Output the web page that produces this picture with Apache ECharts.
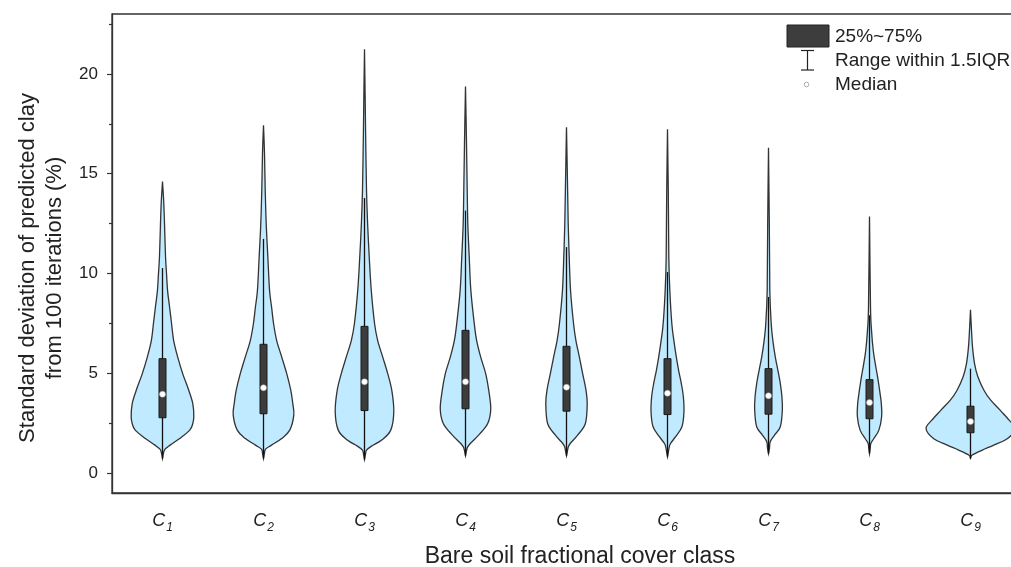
<!DOCTYPE html>
<html>
<head>
<meta charset="utf-8">
<script src="https://cdn.jsdelivr.net/npm/echarts@6/dist/echarts.min.js"></script>
<style>
  html, body { margin: 0; padding: 0; background: #fff; }
  #chart { width: 1011px; height: 567px; }
</style>
</head>
<body>
<div id="chart"></div>
<script>
// class subscripts (C1 ... C9)
const classes = ['1', '2', '3', '4', '5', '6', '7', '8', '9']

// box plot stats, % clay
const lowerQuartile = [2.77, 2.97, 3.13, 3.22, 3.1, 2.93, 2.95, 2.72, 2.02]
const medians = [3.95, 4.27, 4.57, 4.57, 4.3, 4.0, 3.87, 3.53, 2.58]
const upperQuartile = [5.73, 6.45, 7.35, 7.15, 6.35, 5.73, 5.23, 4.68, 3.35]
const whiskerHigh = [10.27, 11.73, 13.78, 13.15, 11.32, 10.07, 8.82, 7.9, 5.23]
const minValues = [0.73, 0.73, 0.68, 0.87, 0.87, 0.82, 0.98, 0.98, 0.73]

// violin outline: [value, relative density] pairs
const densityC1 = [[0.73, 0], [1.0, 0.02], [1.2, 0.05], [1.4, 0.15], [1.73, 0.34], [2.15, 0.54], [2.48, 0.6], [2.82, 0.62], [3.48, 0.6], [4.15, 0.52], [4.98, 0.4], [5.82, 0.3], [6.65, 0.22], [7.48, 0.18], [8.32, 0.14], [9.15, 0.1], [9.98, 0.08], [10.82, 0.06], [12.48, 0.04], [13.6, 0.024], [14.6, 0]]
const densityC2 = [[0.73, 0], [1.0, 0.02], [1.2, 0.04], [1.4, 0.16], [1.73, 0.36], [2.15, 0.52], [2.9, 0.6], [3.48, 0.58], [4.15, 0.54], [4.98, 0.46], [5.82, 0.36], [6.65, 0.26], [7.48, 0.2], [8.32, 0.16], [9.15, 0.12], [10.82, 0.086], [12.48, 0.054], [14.15, 0.034], [16.0, 0.02], [17.43, 0]]
const densityC3 = [[0.68, 0], [0.95, 0.02], [1.15, 0.04], [1.35, 0.14], [1.65, 0.34], [2.15, 0.52], [3.07, 0.58], [4.15, 0.54], [4.98, 0.46], [5.82, 0.36], [6.65, 0.26], [7.48, 0.2], [9.15, 0.134], [10.82, 0.094], [12.48, 0.062], [14.15, 0.04], [17.0, 0.022], [19.0, 0.012], [21.23, 0]]
const densityC4 = [[0.87, 0], [1.12, 0.02], [1.3, 0.04], [1.48, 0.094], [1.9, 0.26], [2.48, 0.44], [3.22, 0.5], [4.15, 0.46], [4.98, 0.4], [5.82, 0.3], [6.65, 0.22], [7.48, 0.174], [9.15, 0.106], [10.82, 0.074], [12.48, 0.046], [14.15, 0.034], [16.5, 0.02], [19.37, 0]]
const densityC5 = [[0.87, 0], [1.12, 0.02], [1.3, 0.035], [1.48, 0.074], [1.9, 0.22], [2.48, 0.374], [3.48, 0.41], [4.15, 0.386], [4.98, 0.32], [5.82, 0.254], [6.65, 0.186], [7.48, 0.14], [9.15, 0.08], [10.82, 0.054], [12.48, 0.034], [14.5, 0.02], [17.32, 0]]
const densityC6 = [[0.82, 0], [1.1, 0.02], [1.3, 0.035], [1.48, 0.06], [1.82, 0.16], [2.32, 0.286], [3.07, 0.326], [3.82, 0.314], [4.48, 0.274], [5.15, 0.22], [5.82, 0.174], [6.65, 0.126], [7.48, 0.086], [9.15, 0.046], [10.82, 0.026], [14.0, 0.016], [17.23, 0]]
const densityC7 = [[0.98, 0], [1.25, 0.02], [1.57, 0.034], [1.9, 0.12], [2.32, 0.234], [3.15, 0.274], [3.82, 0.266], [4.48, 0.234], [5.15, 0.186], [5.82, 0.134], [6.65, 0.086], [7.48, 0.054], [9.15, 0.026], [12.5, 0.016], [16.3, 0]]
const densityC8 = [[0.98, 0], [1.25, 0.015], [1.48, 0.026], [1.73, 0.086], [2.15, 0.186], [2.82, 0.24], [3.48, 0.234], [4.15, 0.2], [4.82, 0.16], [5.48, 0.114], [6.15, 0.074], [7.15, 0.04], [8.32, 0.02], [12.85, 0]]
const densityC9 = [[0.73, 0], [0.9, 0.034], [1.15, 0.234], [1.4, 0.46], [1.73, 0.734], [2.23, 0.88], [2.65, 0.766], [3.15, 0.586], [3.65, 0.4], [4.15, 0.266], [4.82, 0.146], [5.48, 0.08], [6.32, 0.04], [7.15, 0.02], [8.18, 0]]
const densityProfiles = [densityC1, densityC2, densityC3, densityC4, densityC5, densityC6, densityC7, densityC8, densityC9]

// y axis ticks
const yMajorTicks = [0, 5, 10, 15, 20]
const yMinorTicks = [2.5, 7.5, 12.5, 17.5, 22.5]

const FONT = 'Liberation Sans, Arial, Helvetica, sans-serif'
const INK = '#222'

// catmull-rom curve through the outline points
function curve(pts, move) {
  let d = (move ? 'M' : 'L') + pts[0][0].toFixed(2) + ',' + pts[0][1].toFixed(2)
  for (let k = 0; k < pts.length - 1; k++) {
    const p0 = pts[Math.max(k - 1, 0)]
    const p1 = pts[k]
    const p2 = pts[k + 1]
    const p3 = pts[Math.min(k + 2, pts.length - 1)]
    const c1 = [p1[0] + (p2[0] - p0[0]) / 6, p1[1] + (p2[1] - p0[1]) / 6]
    const c2 = [p2[0] - (p3[0] - p1[0]) / 6, p2[1] - (p3[1] - p1[1]) / 6]
    d += 'C' + c1[0].toFixed(2) + ',' + c1[1].toFixed(2) + ' ' + c2[0].toFixed(2) + ',' + c2[1].toFixed(2) + ' ' + p2[0].toFixed(2) + ',' + p2[1].toFixed(2)
  }
  return d
}

function renderViolin(params, api) {
  const i = api.value(0)
  const prof = densityProfiles[i]
  const half = api.size([1, 0])[0] / 2
  const cx = api.coord([i, 0])[0]
  const left = prof.map(p => [cx - p[1] * half, api.coord([i, p[0]])[1]])
  const right = prof.map(p => [cx + p[1] * half, api.coord([i, p[0]])[1]]).reverse()
  return {
    type: 'path',
    shape: { pathData: curve(left, true) + curve(right, false) + 'Z' },
    style: { fill: '#bfeaff', stroke: '#333', lineWidth: 1.3 },
  }
}

function renderWhisker(params, api) {
  const i = api.value(0)
  const lo = api.coord([i, minValues[i]])
  const hi = api.coord([i, whiskerHigh[i]])
  return {
    type: 'line',
    shape: { x1: lo[0], y1: lo[1], x2: hi[0], y2: hi[1] },
    style: { stroke: '#111', lineWidth: 1.3 },
  }
}

function renderBox(params, api) {
  const i = api.value(0)
  const top = api.coord([i, upperQuartile[i]])
  const bot = api.coord([i, lowerQuartile[i]])
  const w = 7
  return {
    type: 'rect',
    shape: { x: top[0] - w / 2, y: top[1], width: w, height: bot[1] - top[1] },
    style: { fill: '#3c3c3c', stroke: '#1a1a1a', lineWidth: 1 },
  }
}

const idx = classes.map((c, i) => [i, medians[i]])

const legendText = { fontSize: 19, fill: INK, fontFamily: FONT, verticalAlign: 'middle' }

const option = {
  backgroundColor: '#fff',
  animation: false,
  textStyle: { fontFamily: FONT },
  grid: {
    left: 112, right: -10, top: 14, bottom: 74,
    show: true, borderColor: '#333', borderWidth: 1.3,
    outerBoundsMode: 'none',
  },
  // legend drawn by hand: three different key symbols
  graphic: [
    { type: 'rect', shape: { x: 787, y: 25, width: 42, height: 22 }, style: { fill: '#3d3d3d', stroke: '#222', lineWidth: 1 } },
    { type: 'text', x: 835, y: 37, style: Object.assign({ text: '25%~75%' }, legendText) },
    { type: 'polyline', shape: { points: [[801, 50.5], [814, 50.5]] }, style: { stroke: '#222', lineWidth: 1.2 } },
    { type: 'polyline', shape: { points: [[807.5, 50.5], [807.5, 70]] }, style: { stroke: '#222', lineWidth: 1.2 } },
    { type: 'polyline', shape: { points: [[801, 70], [814, 70]] }, style: { stroke: '#222', lineWidth: 1.2 } },
    { type: 'text', x: 835, y: 61, style: Object.assign({ text: 'Range within 1.5IQR' }, legendText) },
    { type: 'circle', shape: { cx: 806.5, cy: 84.5, r: 2.3 }, style: { fill: '#fff', stroke: '#999', lineWidth: 0.8 } },
    { type: 'text', x: 835, y: 85, style: Object.assign({ text: 'Median' }, legendText) },
  ],
  xAxis: {
    type: 'category',
    data: classes,
    name: 'Bare soil fractional cover class',
    nameLocation: 'middle',
    nameGap: 52,
    nameTextStyle: { fontSize: 23, color: INK, fontFamily: FONT, padding: [0, 0, 0, 27] },
    axisLine: { onZero: false, lineStyle: { color: '#333', width: 1.3 } },
    axisTick: { alignWithLabel: true, length: 5, lineStyle: { color: '#333', width: 1.2 } },
    axisLabel: {
      margin: 19,
      formatter: v => '{c|C}{s|' + v + '}',
      rich: {
        c: { fontSize: 18, fontStyle: 'italic', color: INK, fontFamily: FONT, lineHeight: 18, verticalAlign: 'top' },
        s: { fontSize: 12, fontStyle: 'italic', color: INK, fontFamily: FONT, lineHeight: 12, verticalAlign: 'top', padding: [10, 0, 0, 1] },
      },
    },
  },
  yAxis: [
    {
      type: 'value', min: -1, max: 23,
      name: 'Standard deviation of predicted clay\nfrom 100 iterations (%)',
      nameLocation: 'middle',
      nameGap: 44,
      nameTextStyle: { fontSize: 22, color: INK, fontFamily: FONT, lineHeight: 27, padding: [0, 29, 0, 0] },
      splitLine: { show: false },
      axisLine: { show: true, lineStyle: { color: '#333', width: 1.3 } },
      axisTick: { show: true, length: 5, customValues: yMajorTicks, lineStyle: { color: '#333', width: 1.2 } },
      axisLabel: { customValues: yMajorTicks, margin: 14, fontSize: 17, color: INK, fontFamily: FONT },
    },
    {
      type: 'value', min: -1, max: 23, position: 'left',
      splitLine: { show: false },
      axisLine: { show: false },
      axisTick: { show: true, length: 3, customValues: yMinorTicks, lineStyle: { color: '#333', width: 1.2 } },
      axisLabel: { show: false },
    },
  ],
  series: [
    {
      name: 'Violin', type: 'custom', renderItem: renderViolin,
      data: idx, encode: { x: 0, y: 1 }, z: 1, silent: true,
    },
    {
      name: 'Range within 1.5IQR', type: 'custom', renderItem: renderWhisker,
      data: idx, encode: { x: 0, y: 1 }, z: 2, silent: true,
    },
    {
      name: '25%~75%', type: 'custom', renderItem: renderBox,
      data: idx, encode: { x: 0, y: 1 }, z: 3, silent: true,
    },
    {
      name: 'Median', type: 'scatter', data: idx, z: 4,
      symbol: 'circle', symbolSize: 6,
      itemStyle: { color: '#fff', borderColor: '#aaa', borderWidth: 0.5, opacity: 1 },
    },
  ],
}

const chart = echarts.init(document.getElementById('chart'))
chart.setOption(option)
window.onresize = function () {
  chart.resize()
}
</script>
</body>
</html>
